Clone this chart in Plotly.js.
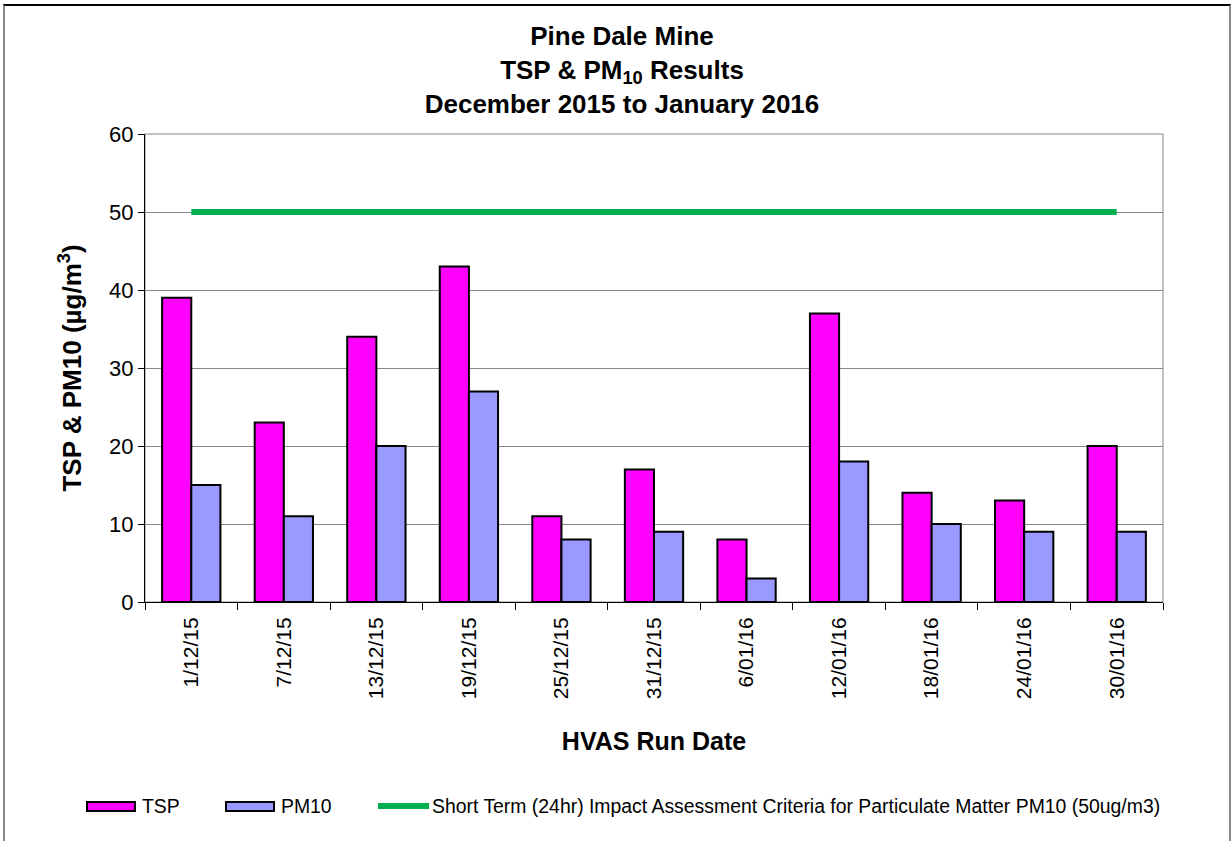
<!DOCTYPE html>
<html><head><meta charset="utf-8">
<script src="https://cdn.plot.ly/plotly-3.0.1.min.js"></script>
<style>
html,body{margin:0;padding:0;background:#fff;}
#wrap{position:relative;width:1232px;height:841px;}
#chart{width:1232px;height:841px;}
#frame{position:absolute;left:3px;top:4px;width:1228px;height:845px;border-left:2px solid #888;border-right:2px solid #888;border-top:2px solid #000;pointer-events:none;box-sizing:border-box;}
</style></head>
<body><div id="wrap"><div id="chart"></div><div id="frame"></div></div>
<script>
const dates = ["1/12/15","7/12/15","13/12/15","19/12/15","25/12/15","31/12/15","6/01/16","12/01/16","18/01/16","24/01/16","30/01/16"];
const tsp = [39,23,34,43,11,17,8,37,14,13,20];
const pm10 = [15,11,20,27,8,9,3,18,10,9,9];
const criteria = [50,50,50,50,50,50,50,50,50,50,50];
const seriesNames = ["TSP","PM10","Short Term (24hr) Impact Assessment Criteria for Particulate Matter PM10 (50ug/m3)"];

const W=1232,H=841,L=145,R=69,T=134,B=239;
const pw=W-L-R, ph=H-T-B;
const px=x=>(x-L)/pw, py=y=>(H-B-y)/ph;
const font="Liberation Sans, Arial, sans-serif";

const traces=[
 {type:'bar',x:dates,y:tsp,name:seriesNames[0],marker:{color:'#FF00FF',line:{color:'#000',width:2}},showlegend:false},
 {type:'bar',x:dates,y:pm10,name:seriesNames[1],marker:{color:'#9999FF',line:{color:'#000',width:2}},showlegend:false},
 {type:'scatter',mode:'lines',x:dates,y:criteria,name:seriesNames[2],line:{color:'#00B050',width:6},showlegend:false}
];

const legY=806;
const shapes=[
 {type:'rect',xref:'paper',yref:'paper',x0:0,x1:1,y0:0,y1:1,line:{color:'#888',width:1},layer:'below'},
 {type:'rect',xref:'paper',yref:'paper',x0:px(87),x1:px(135),y0:py(802),y1:py(811),fillcolor:'#FF00FF',line:{color:'#000',width:2}},
 {type:'rect',xref:'paper',yref:'paper',x0:px(226),x1:px(274),y0:py(802),y1:py(811),fillcolor:'#9999FF',line:{color:'#000',width:2}},
 {type:'line',xref:'paper',yref:'paper',x0:px(378),x1:px(429),y0:py(legY),y1:py(legY),line:{color:'#00B050',width:6}}
];
const ann=(t,x)=>({text:t,xref:'paper',yref:'paper',x:px(x),y:py(legY),xanchor:'left',yanchor:'middle',showarrow:false,font:{family:font,size:19.4,color:'#000'}});
const annotations=[ann(seriesNames[0],140),ann(seriesNames[1],279),ann(seriesNames[2],430)];

const layout={
 width:W,height:H,margin:{l:L,r:R,t:T,b:B},
 paper_bgcolor:'#fff',plot_bgcolor:'#fff',
 font:{family:font,color:'#000'},
 barmode:'group',bargap:0.37,bargroupgap:0,
 title:{text:'<b>Pine Dale Mine<br>TSP & PM<sub>10</sub> Results<br>December 2015 to January 2016</b>',
  font:{family:font,size:26,color:'#000'},x:622/W,xanchor:'center',xref:'container',y:1-45/H,yanchor:'middle',yref:'container'},
 xaxis:{type:'category',tickangle:-90,tickfont:{family:font,size:21,color:'#000'},
  showline:true,linecolor:'#000',linewidth:1,ticks:'outside',tickson:'boundaries',ticklen:7,tickcolor:'#000',
  ticklabelstandoff:6,showgrid:false,
  title:{text:'<b>HVAS Run Date</b>',font:{family:font,size:25,color:'#000'},standoff:34}},
 yaxis:{range:[0,60],dtick:10,tickfont:{family:font,size:22,color:'#000'},
  showline:true,linecolor:'#000',linewidth:1,ticks:'outside',ticklen:6,tickcolor:'#000',
  showgrid:true,gridcolor:'#888',gridwidth:1,zeroline:false,
  title:{text:'<b>TSP & PM10 (µg/m<sup>3</sup>)</b>',font:{family:font,size:26,color:'#000'},standoff:20}},
 shapes:shapes,annotations:annotations,showlegend:false
};
Plotly.newPlot('chart',traces,layout,{displayModeBar:false,staticPlot:true});
</script></body></html>
